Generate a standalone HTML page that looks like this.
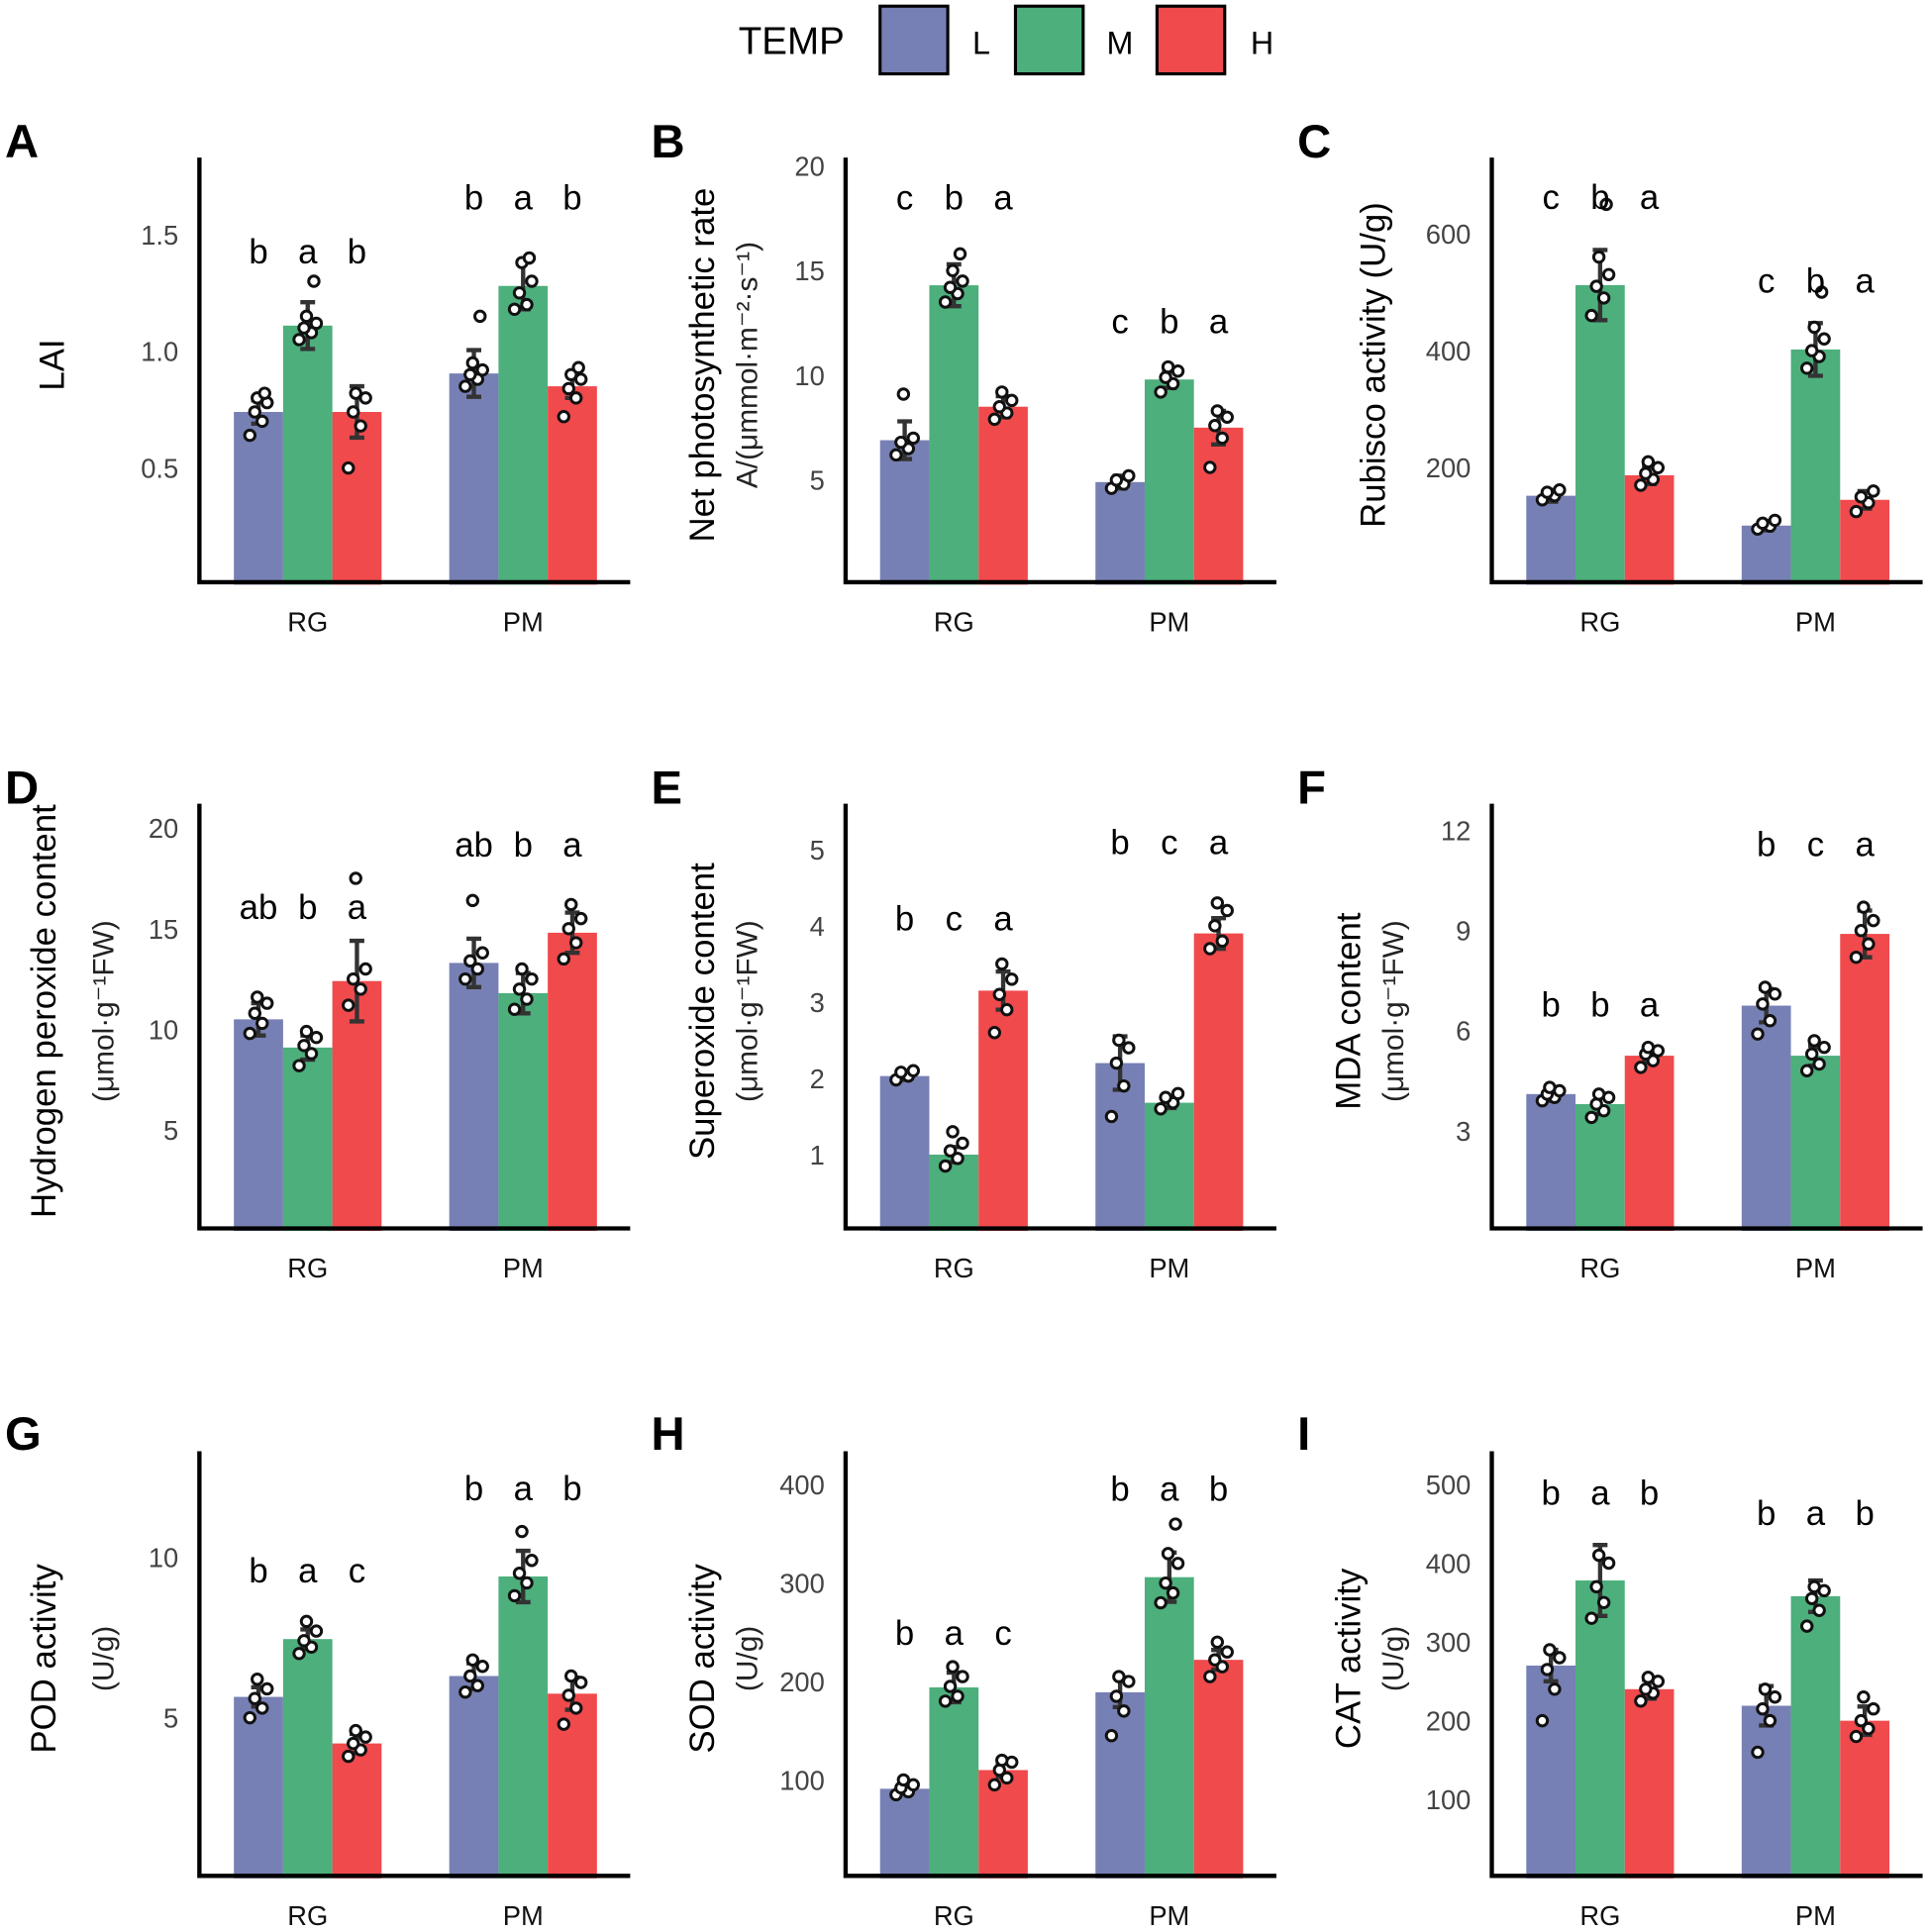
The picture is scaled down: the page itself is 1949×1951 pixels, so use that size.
<!DOCTYPE html>
<html><head><meta charset="utf-8"><style>
html,body{margin:0;padding:0;background:#fff}
svg{display:block}
text{font-family:"Liberation Sans",Arial,sans-serif}
</style></head><body>
<svg id="fig" width="1949" height="1951" viewBox="0 0 1568 1569.6" xmlns="http://www.w3.org/2000/svg">
<g>
<text x="600" y="44" font-size="31">TEMP</text>
<rect x="715" y="5" width="55" height="55" fill="#7780b4" stroke="#000" stroke-width="2.5"/>
<text x="790" y="44" font-size="26">L</text>
<rect x="825" y="5" width="55" height="55" fill="#4daf7c" stroke="#000" stroke-width="2.5"/>
<text x="899" y="44" font-size="26">M</text>
<rect x="940" y="5" width="55" height="55" fill="#f04a4c" stroke="#000" stroke-width="2.5"/>
<text x="1016" y="44" font-size="26">H</text>
</g>
</svg>
<script>
const groups = ["RG","PM"];
const temps = ["L","M","H"];
const colors = ["#7780b4","#4daf7c","#f04a4c"];
const panelIds = ["A","B","C","D","E","F","G","H","I"];
const titles1 = ["LAI","Net photosynthetic rate","Rubisco activity (U/g)","Hydrogen peroxide content","Superoxide content","MDA content","POD activity","SOD activity","CAT activity"];
const titles2 = ["","A/(μmmol·m⁻²·s⁻¹)","","(μmol·g⁻¹FW)","(μmol·g⁻¹FW)","(μmol·g⁻¹FW)","(U/g)","(U/g)","(U/g)"];
const ticks = [[0.5,1.0,1.5],[5,10,15,20],[200,400,600],[5,10,15,20],[1,2,3,4,5],[3,6,9,12],[5,10],[100,200,300,400],[100,200,300,400,500]];
const tickLabels = [["0.5","1.0","1.5"],["5","10","15","20"],["200","400","600"],["5","10","15","20"],["1","2","3","4","5"],["3","6","9","12"],["5","10"],["100","200","300","400"],["100","200","300","400","500"]];
const yMax = [1.83,20.4,730,21.2,5.6,12.8,13.3,434,542];
// means [RG L,M,H, PM L,M,H]
const means = [
[0.74,1.11,0.74,0.905,1.28,0.85],
[6.9,14.3,8.5,4.9,9.8,7.5],
[152,512,187,101,402,145],
[10.5,9.1,12.4,13.3,11.8,14.8],
[2.03,1.0,3.15,2.2,1.68,3.9],
[4.1,3.8,5.25,6.75,5.25,8.9],
[5.65,7.45,4.2,6.3,9.4,5.75],
[91,194,110,189,306,222],
[270,378,240,219,358,200]];
const errs = [
[0.05,0.1,0.11,0.1,0.1,0.05],
[0.9,1.0,0.5,0.3,0.4,0.8],
[10,60,15,8,45,15],
[0.8,0.6,2.0,1.2,1.0,1.0],
[0.05,0.1,0.25,0.35,0.07,0.2],
[0.2,0.3,0.2,0.5,0.3,0.7],
[0.3,0.3,0.3,0.4,0.8,0.5],
[5,15,7,15,25,10],
[20,45,12,25,20,18]];
const letters = [
["b","a","b","b","a","b"],["c","b","a","c","b","a"],["c","b","a","c","b","a"],
["ab","b","a","ab","b","a"],["b","c","a","b","c","a"],["b","b","a","b","c","a"],
["b","a","c","b","a","b"],["b","a","c","b","a","b"],["b","a","b","b","a","b"]];
const letterY = [[1.43,1.66],[18.5,12.6],[663,520],[16.1,19.2],[4.1,5.1],[6.8,11.6],[9.6,12.15],[250,396],[490,464]];
const pts = [
[[0.64,0.70,0.74,0.78,0.80,0.82],[1.05,1.08,1.10,1.12,1.15,1.30],[0.50,0.68,0.74,0.80,0.82],[0.85,0.88,0.90,0.92,0.95,1.15],[1.18,1.20,1.25,1.30,1.38,1.40],[0.72,0.80,0.84,0.88,0.90,0.93]],
[[6.2,6.5,6.8,7.0,9.1],[13.5,13.9,14.2,14.5,15.0,15.8],[7.9,8.2,8.5,8.8,9.2],[4.6,4.8,5.0,5.2],[9.2,9.6,9.9,10.2,10.4],[5.6,7.0,7.6,8.0,8.3]],
[[145,152,158,162],[460,490,510,530,560,650],[170,180,190,200,210],[95,100,105,110],[370,390,400,420,440,500],[125,140,150,160]],
[[9.8,10.3,10.8,11.3,11.6],[8.2,8.8,9.2,9.6,9.9],[11.2,12.0,12.5,13.0,17.5],[12.5,13,13.4,13.8,16.4],[11.0,11.5,12,12.5,13.0],[13.5,14.3,15,15.5,16.2]],
[[1.98,2.03,2.08,2.1],[0.85,0.95,1.05,1.15,1.3],[2.6,2.9,3.1,3.3,3.5],[1.5,1.9,2.2,2.4,2.5],[1.6,1.68,1.75,1.8],[3.7,3.8,4.0,4.2,4.3]],
[[3.9,4.0,4.1,4.2,4.3],[3.4,3.6,3.8,4.0,4.1],[4.9,5.1,5.3,5.4,5.5],[5.9,6.3,6.8,7.1,7.3],[4.8,5.0,5.3,5.5,5.7],[8.2,8.6,9.0,9.3,9.7]],
[[5.0,5.3,5.6,5.9,6.2],[7.0,7.2,7.4,7.7,8.0],[3.8,4.0,4.2,4.4,4.6],[5.8,6.0,6.3,6.6,6.8],[8.8,9.2,9.5,9.9,10.8],[4.8,5.3,5.7,6.1,6.3]],
[[85,88,92,95,100],[180,185,195,205,215],[95,102,110,118,120],[145,170,185,200,205],[280,290,300,320,330,360],[205,215,222,230,240]],
[[200,240,265,280,290],[330,350,370,400,410],[225,235,240,250,255],[160,200,215,230,240],[320,340,355,365,370],[180,190,200,215,230]]];

const NS = "http://www.w3.org/2000/svg";
const svg = document.getElementById("fig");
function mk(tag, attrs, parent){const e=document.createElementNS(NS,tag);for(const k in attrs)e.setAttribute(k,attrs[k]);parent.appendChild(e);return e;}
const jit = [-7,3,-3,7,-1,5,-5];
panelIds.forEach((pid,p)=>{
  const col=p%3,row=Math.floor(p/3);
  const ox=col*525, bottom=[475,1000,1526][row], top=bottom-347;
  const axX=162+ox, axEnd=512+ox;
  const y=v=>bottom-(v/yMax[p])*(bottom-top);
  const g=mk("g",{},svg);
  
  
  const lt=mk("text",{x:4+ox,y:128+row*525,"font-size":38,"font-weight":"bold"},g);lt.textContent=pid;
  
  
  // bars
  groups.forEach((gn,gi)=>{
    const cx=250+gi*175+ox;
    temps.forEach((t,ti)=>{
      const i=gi*3+ti, x0=cx-60+ti*40, bc=x0+20;
      const r=mk("rect",{x:x0,y:y(means[p][i]),width:40,height:bottom-y(means[p][i]),fill:colors[ti]},g);
      
      
      const e1=y(means[p][i]+errs[p][i]), e2=y(means[p][i]-errs[p][i]);
      const eb=mk("path",{d:`M${bc},${e1}V${e2}M${bc-6},${e1}H${bc+6}M${bc-6},${e2}H${bc+6}`,stroke:"#333",fill:"none","stroke-width":3.5},g);
      
      
      pts[p][i].forEach((v,k)=>{
        const c=mk("circle",{cx:bc+jit[k%jit.length],cy:y(v),r:4.2,fill:"#fff",stroke:"#111","stroke-width":2.4},g);
        
        
      });
      const lx=mk("text",{x:bc,y:y(letterY[p][gi])+10,"font-size":28,"text-anchor":"middle"},g);lx.textContent=letters[p][i];
      
      
    });
    const xl=mk("text",{x:cx,y:bottom+38,"font-size":22,"text-anchor":"middle",fill:"#111"},g);xl.textContent=gn;
    
    
  });
  ticks[p].forEach((tv,k)=>{
    const tl=mk("text",{x:145+ox,y:y(tv)+8,"font-size":22,"text-anchor":"end",fill:"#444"},g);tl.textContent=tickLabels[p][k];
    
    
  });
  const ax=mk("path",{d:`M${axX},${top}V${bottom-2}H${axEnd}`,stroke:"#000","stroke-width":3.5,fill:"none"},g);
  
  
  const cy=(top+bottom)/2-5;
  const two=titles2[p]!=="";
  const tx1=two?(col==0?45:col==1?45:50)+ox:(col==0?45:-50+ox+(col==2?45:0));
  let x1=45+ox, x2=92+ox;
  if(col==1){x1=580+0-525+ox; x2=615-525+ox;}
  if(col==2){ if(two){x1=1105-1050+ox; x2=1140-1050+ox;} else {x1=1125-1050+ox;} }
  if(!two && col==0){x1=52+ox;}
  const t1=mk("text",{x:0,y:0,"font-size":28,"text-anchor":"middle",transform:`translate(${x1},${cy}) rotate(-90)`},g);t1.textContent=titles1[p];
  
  
  if(two){
    const t2=mk("text",{x:0,y:0,"font-size":24,"text-anchor":"middle",fill:"#222",transform:`translate(${x2},${cy}) rotate(-90)`},g);t2.textContent=titles2[p];
    
    
  }
});
</script>
</body></html>
